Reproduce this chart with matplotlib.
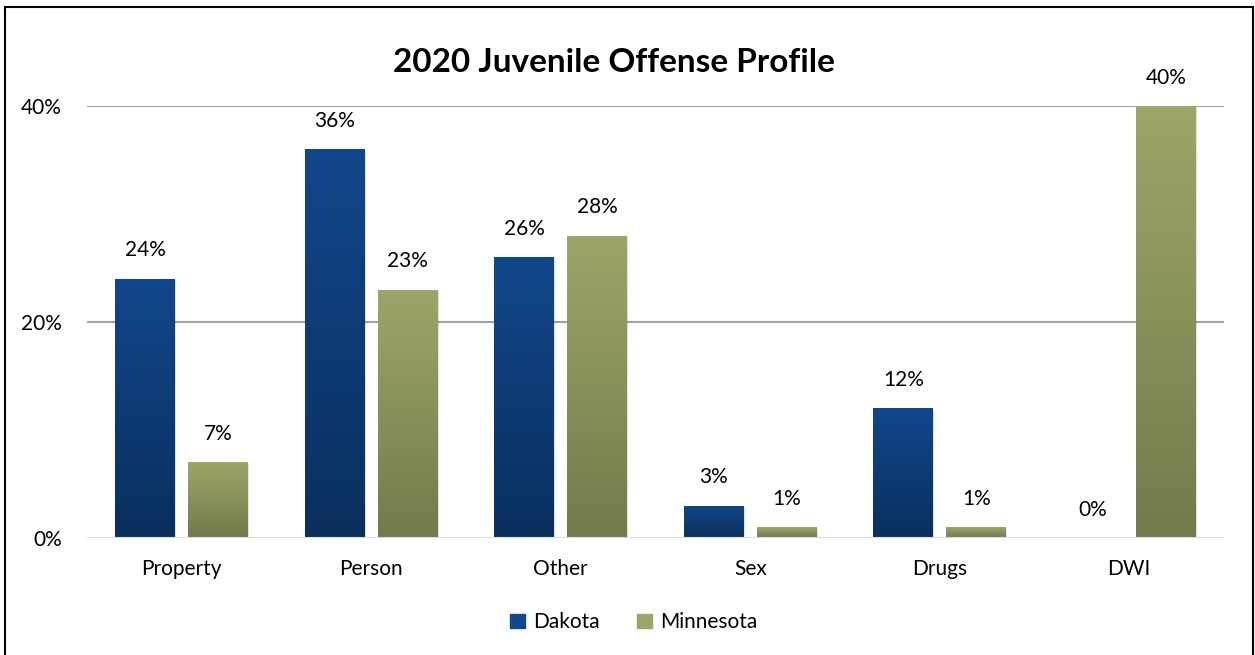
import matplotlib

matplotlib.use("Agg")
import matplotlib.pyplot as plt
import numpy as np
from matplotlib.colors import LinearSegmentedColormap
from matplotlib.patches import Rectangle

categories = ["Property", "Person", "Other", "Sex", "Drugs", "DWI"]
dakota = [24, 36, 26, 3, 12, 0]
minnesota = [7, 23, 28, 1, 1, 40]
series_names = ["Dakota", "Minnesota"]
y_ticks = [0, 20, 40]
y_tick_labels = ["0%", "20%", "40%"]

FONT = ["Lato", "DejaVu Sans"]
BAR_W = 0.315
GAP = 0.07

# top / bottom colours for the bar gradients
dakota_grad = ("#11478b", "#0a2f5e")
minn_grad = ("#9fa568", "#737a4b")

fig = plt.figure(figsize=(12.55, 6.55), dpi=100)
ax = fig.add_axes([0.0693, 0.1786, 0.906, 0.6595])

x = np.arange(len(categories))
offset = (BAR_W + GAP) / 2


def gradient_bars(xs, values, colors, label):
    cmap = LinearSegmentedColormap.from_list(label, [colors[1], colors[0]])
    bars = ax.bar(xs, values, BAR_W, color=colors[0], label=label, zorder=3)
    for bar, v in zip(bars, values):
        bx, bw = bar.get_x(), bar.get_width()
        if v <= 0:
            bar.set_alpha(0)
            continue
        # soft shadow behind the bar
        ax.add_patch(Rectangle((bx + 0.006, -0.25), bw, v + 0.1,
                               facecolor="#000000", alpha=0.12,
                               edgecolor="none", zorder=2))
        grad = np.linspace(0, 1, 256).reshape(-1, 1)
        im = ax.imshow(grad, cmap=cmap, origin="lower", aspect="auto",
                       extent=(bx, bx + bw, 0, v), vmin=0, vmax=1, zorder=3)
        im.set_clip_path(bar)
    return bars


gradient_bars(x - offset, dakota, dakota_grad, series_names[0])
gradient_bars(x + offset, minnesota, minn_grad, series_names[1])

for xs, vals in ((x - offset, dakota), (x + offset, minnesota)):
    for xi, v in zip(xs, vals):
        ax.text(xi, v + 1.7, f"{v}%", ha="center", va="bottom",
                fontsize=15, family=FONT, color="#000000")

ax.set_xlim(-0.5, len(categories) - 0.5)
ax.set_ylim(0, 40)
ax.set_yticks(y_ticks)
ax.set_yticklabels(y_tick_labels, family=FONT, fontsize=15)
ax.set_xticks(x)
ax.set_xticklabels(categories, family=FONT, fontsize=15)
ax.tick_params(length=0)
ax.tick_params(axis="y", pad=18)
ax.tick_params(axis="x", pad=15)

for y in y_ticks[1:]:
    ax.axhline(y, color="#a0a0a0", lw=1.5, zorder=1)
ax.axhline(0, color="#cfdff0", lw=1.5, zorder=4)
for s in ax.spines.values():
    s.set_visible(False)

fig.text(614 / 1255, 1 - 62 / 655, "2020 Juvenile Offense Profile",
         fontsize=24, fontweight="bold", family=FONT, ha="center", va="center")

handles = [Rectangle((0, 0), 1, 1, color=dakota_grad[0]),
           Rectangle((0, 0), 1, 1, color=minn_grad[0])]
fig.legend(handles, series_names, loc="center", bbox_to_anchor=(0.505, 0.05),
           ncol=2, frameon=False, prop={"family": FONT, "size": 15},
           handlelength=0.7, handleheight=0.7, handletextpad=0.4,
           columnspacing=1.8)

# outer chart border
fig.patches.append(Rectangle((5 / 1255, -0.01), 1248 / 1255, 1 - 7 / 655 + 0.01,
                             transform=fig.transFigure, fill=False,
                             edgecolor="#000000", lw=1.5))

fig.savefig("out.png", dpi=100)
